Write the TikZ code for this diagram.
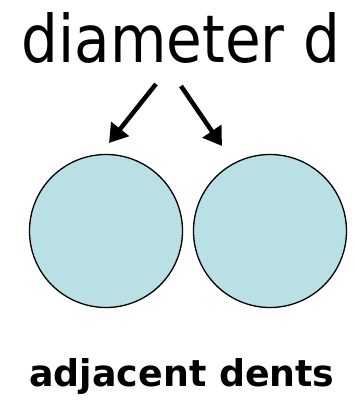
\documentclass[tikz,border=0pt]{standalone}
\usepackage{fontspec}
\setmainfont{DejaVu Sans}
\usetikzlibrary{arrows.meta}
\definecolor{dentfill}{RGB}{185,224,228}
\begin{document}
\begin{tikzpicture}[x=1pt,y=-1pt,
  dent/.style={circle,draw=black,line width=1.3pt,fill=dentfill,minimum size=153pt,inner sep=0pt},
  pointer/.style={line width=4.5pt,-{Triangle[length=18pt,width=22pt]}}]
\useasboundingbox (0,0) rectangle (355,400);
\node[anchor=base,inner sep=0pt] (title) at (181,62) {\resizebox{318pt}{50pt}{diameter d}};
\node[dent] (c1) at (106,231) {};
\node[dent] (c2) at (270,231) {};
\coordinate (a1s) at (156,84);
\coordinate (a1e) at (109,143);
\coordinate (a2s) at (181,86);
\coordinate (a2e) at (222,146);
\draw[pointer] (a1s) -- (a1e);
\draw[pointer] (a2s) -- (a2e);
\node[anchor=base,inner sep=0pt] (label) at (182,386) {\resizebox{305pt}{28pt}{\bfseries adjacent dents}};
\end{tikzpicture}
\end{document}
